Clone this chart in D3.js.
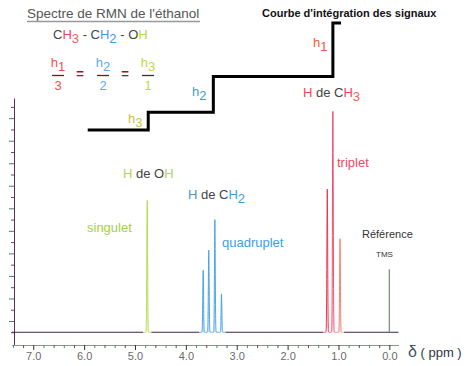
<!DOCTYPE html>
<html>
<head>
<meta charset="utf-8">
<script src="https://cdn.jsdelivr.net/npm/d3@7"></script>
<style>
  body { margin: 0; background: #fff; }
  text { font-family: Arial, 'Liberation Sans', sans-serif; }
</style>
</head>
<body>
<div id="chart"></div>
<script>
// peaks: chemical shift (ppm) and height (in y-axis tick units)
const ohPpm = [4.76];
const ohHeights = [11.7];
const ch2Ppm = [3.66, 3.55, 3.43, 3.30];
const ch2Heights = [5.5, 7.3, 10.0, 3.4];
const ch3Ppm = [1.22, 1.11, 0.97];
const ch3Heights = [12.7, 19.6, 8.3];
const tmsPpm = 0.0;
const tmsHeight = 5.6;

// integration curve (steps)
const integPpm = [5.9, 4.74, 3.46, 1.11, 0.98];
const integValues = [0, 1, 3, 6, 6];

const xTickValues = [7, 6, 5, 4, 3, 2, 1, 0];

const width = 471;
const height = 366;

const svg = d3.select('#chart')
    .append('svg')
    .attr('width', width)
    .attr('height', height);

const xScale = d3.scaleLinear()
    .domain([7.42, -0.18])
    .range([11.9, 398.5]);

const yScale = d3.scaleLinear()
    .domain([-1.13, 20.79])
    .range([345, 98]);

const iScale = d3.scaleLinear()
    .domain([0, 6])
    .range([130, 23]);

const red = '#ee4460';
const blue = '#3d9de6';
const green = '#b4d846';
const gray = '#444';

// ---- axes
const yAxis = d3.axisLeft(yScale)
    .tickValues(d3.range(0, 21))
    .tickSize(4)
    .tickSizeOuter(0)
    .tickFormat('');

const gy = svg.append('g')
    .attr('transform', 'translate(14, 0)')
    .call(yAxis);
gy.select('.domain').attr('stroke', '#553355');
gy.selectAll('.tick line')
    .attr('stroke', (d, i) => i % 2 ? '#557766' : '#664466')
    .attr('x2', (d, i) => i % 2 ? -5 : -3);

const minorTicks = d3.range(0, 38).map((i) => i / 5).filter((v) => Math.abs(v - Math.round(v)) > 0.01);

const gxMinor = svg.append('g')
    .attr('transform', 'translate(0, 345)')
    .call(d3.axisBottom(xScale).tickValues(minorTicks).tickSize(3).tickSizeOuter(0).tickFormat(''));
gxMinor.select('.domain').attr('stroke', '#8a9a88');
gxMinor.selectAll('.tick line').attr('stroke', (d, i) => i % 2 ? '#558866' : '#664466');

const gx = svg.append('g')
    .attr('transform', 'translate(0, 345)')
    .call(d3.axisBottom(xScale).tickValues(xTickValues).tickSize(5).tickSizeOuter(0).tickFormat(d3.format('.1f')));
gx.select('.domain').remove();
gx.selectAll('.tick line').attr('stroke', '#333');
gx.selectAll('.tick text')
    .attr('fill', '#6a6a6a')
    .attr('font-size', 11)
    .attr('dy', null)
    .attr('y', 15);

// ---- spectrum
const peakWidth = 0.011;
function spectrum(ppms, heights) {
    const lo = d3.min(ppms) - 0.08;
    const hi = d3.max(ppms) + 0.08;
    return d3.range(hi, lo, -0.001).map((p) => {
        let v = 0;
        ppms.forEach((c, i) => {
            const d = (p - c) / peakWidth;
            v += heights[i] * Math.exp(-d * d);
        });
        return [p, v];
    });
}

const multiplets = [
    { ppm: ohPpm, h: ohHeights, color: green, fill: '#e4f2c0' },
    { ppm: ch2Ppm, h: ch2Heights, color: blue, fill: '#c4d0f4' },
    { ppm: ch3Ppm, h: ch3Heights, color: red, fill: '#f8d0d6' }
];

// baseline between multiplets
const ranges = multiplets.map((m) => [d3.max(m.ppm) + 0.08, d3.min(m.ppm) - 0.08]);
let from = 7.42;
const baseSegs = [];
ranges.forEach((r) => { baseSegs.push([from, r[0]]); from = r[1]; });
baseSegs.push([from, -0.18]);

svg.append('g').selectAll('line')
    .data(baseSegs)
    .enter()
    .append('line')
    .attr('x1', (d) => xScale(d[0]))
    .attr('x2', (d) => xScale(d[1]))
    .attr('y1', yScale(0))
    .attr('y2', yScale(0))
    .attr('stroke', '#442244')
    .attr('stroke-width', 1.2);

const line = d3.line()
    .x((d) => xScale(d[0]))
    .y((d) => yScale(d[1]));

const defs = svg.append('defs');
const grad = defs.append('linearGradient')
    .attr('id', 'ch3grad')
    .attr('gradientUnits', 'userSpaceOnUse')
    .attr('x1', xScale(1.25)).attr('x2', xScale(0.93))
    .attr('y1', 0).attr('y2', 0);
grad.append('stop').attr('offset', '0').attr('stop-color', '#e8203c');
grad.append('stop').attr('offset', '0.55').attr('stop-color', '#f04a6a');
grad.append('stop').attr('offset', '1').attr('stop-color', '#f48866');

multiplets.forEach((m, i) => {
    const pts = spectrum(m.ppm, m.h);
    svg.append('path')
        .datum(pts)
        .attr('d', line)
        .attr('fill', m.fill)
        .attr('fill-opacity', 0.6)
        .attr('stroke', i === 2 ? 'url(#ch3grad)' : m.color)
        .attr('stroke-width', 0.9);
});

svg.append('line')
    .attr('x1', xScale(tmsPpm))
    .attr('x2', xScale(tmsPpm))
    .attr('y1', yScale(0))
    .attr('y2', yScale(tmsHeight))
    .attr('stroke', '#7f9477')
    .attr('stroke-width', 1.3);

// ---- integration curve
const integLine = d3.line()
    .x((d, i) => xScale(integPpm[i]))
    .y((d) => iScale(d))
    .curve(d3.curveStepAfter);

svg.append('path')
    .datum(integValues)
    .attr('d', integLine)
    .attr('fill', 'none')
    .attr('stroke', '#000')
    .attr('stroke-width', 3)
    .attr('stroke-linejoin', 'miter')
    .attr('stroke-linecap', 'square');

// ---- texts
function rich(x, y, size, parts, anchor) {
    const t = svg.append('text')
        .attr('x', x)
        .attr('y', y)
        .attr('font-size', size)
        .attr('text-anchor', anchor || 'start');
    parts.forEach((p) => {
        const s = t.append('tspan').text(p[0]).attr('fill', p[1]);
        if (p[2]) s.attr('dy', p[2]);
        if (p[3]) s.attr('font-size', p[3]);
    });
    return t;
}

svg.append('text')
    .attr('x', 27).attr('y', 18)
    .attr('font-size', 13.5)
    .attr('fill', '#555')
    .text("Spectre de RMN de l'éthanol");
svg.append('line')
    .attr('x1', 27).attr('x2', 200)
    .attr('y1', 21.5).attr('y2', 21.5)
    .attr('stroke', '#999')
    .attr('stroke-width', 1.5);

rich(53, 39, 13, [
    ['C', gray], ['H', red], ['3', '#f06050', 4], [' - ', gray, -4], ['C', gray], ['H', blue],
    ['2', blue, 4], [' - ', gray, -4], ['O', gray], ['H', green]
]);

// ratio h1/3 = h2/2 = h3/1
const fracs = [
    { x: 58, num: '1', den: '3', color: '#f05050' },
    { x: 103, num: '2', den: '2', color: '#5aaaf0' },
    { x: 148, num: '3', den: '1', color: '#c4d840' }
];
fracs.forEach((f) => {
    rich(f.x, 67, 13, [['h', f.color], [f.num, f.color, 4]], 'middle');
    svg.append('line')
        .attr('x1', f.x - 6).attr('x2', f.x + 6)
        .attr('y1', 75.5).attr('y2', 75.5)
        .attr('stroke', '#6a1a1a').attr('stroke-width', 1.3);
    svg.append('text')
        .attr('x', f.x).attr('y', 90)
        .attr('font-size', 13)
        .attr('text-anchor', 'middle')
        .attr('fill', f.color)
        .text(f.den);
});
[80, 125].forEach((x) => {
    svg.append('text')
        .attr('x', x).attr('y', 78)
        .attr('font-size', 13)
        .attr('font-weight', 'bold')
        .attr('text-anchor', 'middle')
        .attr('fill', '#8b1a2a')
        .text('=');
});

svg.append('text')
    .attr('x', 262).attr('y', 17)
    .attr('font-size', 11)
    .attr('font-weight', 'bold')
    .attr('fill', '#111')
    .text("Courbe d'intégration des signaux");

rich(313, 47, 13, [['h', '#e8603c'], ['1', '#e8603c', 4]]);
rich(192, 96, 13, [['h', '#4a98c0'], ['2', '#4a98c0', 4]]);
rich(128, 123, 13, [['h', '#c8c43c'], ['3', '#c8c43c', 4]]);

rich(303, 97, 13, [['H', red], [' de ', gray], ['C', gray], ['H', red], ['3', '#f06050', 4]]);
rich(123, 178, 13, [['H', green], [' de O', gray], ['H', green]]);
rich(188, 199, 13, [['H', '#4a98c8'], [' de ', gray], ['C', gray], ['H', blue], ['2', blue, 4]]);

svg.append('text').attr('x', 87).attr('y', 232).attr('font-size', 13)
    .attr('fill', '#a8d040').text('singulet');
svg.append('text').attr('x', 222).attr('y', 247).attr('font-size', 13)
    .attr('fill', '#3aa0f0').text('quadruplet');
svg.append('text').attr('x', 337).attr('y', 167).attr('font-size', 13)
    .attr('fill', '#f04866').text('triplet');
svg.append('text').attr('x', 362).attr('y', 238).attr('font-size', 11)
    .attr('fill', '#333').text('Référence');
svg.append('text').attr('x', 376).attr('y', 257).attr('font-size', 8)
    .attr('fill', '#333').text('TMS');

rich(408, 357, 13, [['δ', '#445566', 0, 16], ['  ( ppm )', '#334', 0, 13]]);
</script>
</body>
</html>
